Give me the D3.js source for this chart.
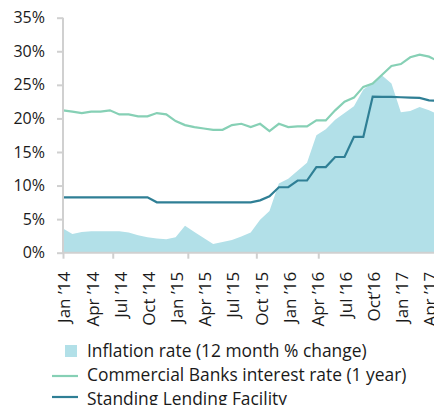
<!DOCTYPE html>
<html>
<head>
<meta charset="utf-8">
<script src="https://cdn.jsdelivr.net/npm/d3@7"></script>
<style>
  body { margin: 0; background: #fff; }
  svg { display: block; font-family: "Open Sans", sans-serif; }
</style>
</head>
<body>
<div id="chart"></div>
<script>
var width = 434;
var height = 405;

// months from Jan 2014 (0) to May 2017 (40)
var months = d3.range(0, 41);

var inflation = [3.6, 2.8, 3.1, 3.2, 3.2, 3.2, 3.2, 3.0, 2.6, 2.3, 2.1, 2.0, 2.3,
  4.0, 3.1, 2.2, 1.3, 1.6, 1.9, 2.4, 3.0, 4.9, 6.2, 10.3, 11.0, 12.2, 13.4,
  17.5, 18.4, 19.8, 20.8, 21.8, 24.3, 25.3, 26.4, 25.2, 20.9, 21.1, 21.7, 21.2, 20.6];

var bankRate = [21.2, 21.0, 20.8, 21.0, 21.0, 21.2, 20.6, 20.6, 20.3, 20.3, 20.8, 20.6, 19.6,
  19.0, 18.7, 18.5, 18.3, 18.3, 19.0, 19.2, 18.7, 19.2, 18.1, 19.2, 18.7, 18.8, 18.8,
  19.7, 19.7, 21.2, 22.5, 23.1, 24.7, 25.2, 26.5, 27.8, 28.1, 29.1, 29.5, 29.2, 28.5];

var lendingFacility = [8.25, 8.25, 8.25, 8.25, 8.25, 8.25, 8.25, 8.25, 8.25, 8.25, 7.5, 7.5, 7.5,
  7.5, 7.5, 7.5, 7.5, 7.5, 7.5, 7.5, 7.5, 7.8, 8.4, 9.75, 9.75, 10.75, 10.75,
  12.75, 12.75, 14.25, 14.25, 17.25, 17.25, 23.25, 23.2, 23.2, 23.15, 23.1, 23.05, 22.7, 22.6];

var yTicks = [0, 5, 10, 15, 20, 25, 30, 35];
var xTickMonths = [0, 5.3, 13.3, 20.6, 27.2];
var labelMonths = [0, 3, 6, 9, 12, 15, 18, 21, 24, 27, 30, 33, 36, 39];
var labelNames = ["Jan \u201914", "Apr \u201914", "Jul \u201914", "Oct \u201914",
  "Jan \u201915", "Apr \u201915", "Jul \u201915", "Oct \u201915",
  "Jan \u201916", "Apr \u201916", "Jul \u201916", "Oct\u201916",
  "Jan \u201917", "Apr \u201917"];

var seriesNames = ["Inflation rate (12 month % change)",
  "Commercial Banks interest rate (1 year)",
  "Standing Lending Facility"];
var colors = ["#b2e0e8", "#86d0b5", "#2f7f95"];

var x = d3.scaleLinear().domain([0, 40]).range([63, 438.4]);
var y = d3.scaleLinear().domain([0, 35]).range([252.7, 17.7]);

var svg = d3.select("#chart").append("svg")
  .attr("width", width)
  .attr("height", height);

var area = d3.area()
  .x(function(d, i) { return x(months[i]); })
  .y0(y(0))
  .y1(function(d) { return y(d); });

svg.append("path")
  .datum(inflation)
  .attr("d", area)
  .style("fill", colors[0]);

var line = d3.line()
  .x(function(d, i) { return x(months[i]); })
  .y(function(d) { return y(d); });

svg.append("path")
  .datum(bankRate)
  .attr("d", line)
  .style("fill", "none")
  .style("stroke", colors[1])
  .style("stroke-width", 2.2);

svg.append("path")
  .datum(lendingFacility)
  .attr("d", line)
  .style("fill", "none")
  .style("stroke", colors[2])
  .style("stroke-width", 2.2);

// y axis
var yAxis = d3.axisLeft(y)
  .tickValues(yTicks)
  .tickFormat(function(d) { return d + "%"; })
  .tickSize(6)
  .tickPadding(12);
var gy = svg.append("g")
  .attr("transform", "translate(63,0)")
  .call(yAxis);
gy.selectAll("path, line").style("stroke", "#d0d0d0").style("stroke-width", 2);
gy.select(".domain").attr("d", "M0," + y(35) + "V" + y(0));
gy.selectAll("text")
  .style("font-size", "16px")
  .style("fill", "#1a1a1a")
  .style("font-family", "Open Sans, sans-serif");

// x axis ticks
var xAxis = d3.axisBottom(x)
  .tickValues(xTickMonths)
  .tickFormat("")
  .tickSize(6);
var gx = svg.append("g")
  .attr("transform", "translate(0," + y(0) + ")")
  .call(xAxis);
gx.selectAll("path, line").style("stroke", "#d0d0d0").style("stroke-width", 2);
gx.select(".domain").attr("d", "M63,0H" + width);

// x axis labels
var xLabels = d3.axisBottom(x)
  .tickValues(labelMonths)
  .tickFormat(function(d, i) { return labelNames[i]; })
  .tickSize(0);
var gl = svg.append("g")
  .attr("transform", "translate(0," + y(0) + ")")
  .call(xLabels);
gl.select(".domain").remove();
gl.selectAll("text")
  .attr("transform", "rotate(-90)")
  .attr("text-anchor", "end")
  .attr("x", -19)
  .attr("y", 1)
  .attr("dy", "0.35em")
  .style("font-size", "17px")
  .style("fill", "#1a1a1a")
  .style("font-family", "Open Sans, sans-serif");

// legend
var legend = svg.append("g").attr("transform", "translate(0,351)");
legend.append("rect")
  .attr("x", 65).attr("y", -6)
  .attr("width", 12).attr("height", 12)
  .style("fill", colors[0]);
legend.append("line")
  .attr("x1", 52).attr("x2", 78)
  .attr("y1", 25).attr("y2", 25)
  .style("stroke", colors[1]).style("stroke-width", 2.2);
legend.append("line")
  .attr("x1", 52).attr("x2", 78)
  .attr("y1", 46).attr("y2", 46)
  .style("stroke", colors[2]).style("stroke-width", 2.2);
legend.selectAll("text.leg")
  .data(seriesNames)
  .enter().append("text")
  .attr("class", "leg")
  .attr("x", 87)
  .attr("y", function(d, i) { return i * 24; })
  .attr("dy", "0.35em")
  .style("font-size", "17.4px")
  .style("fill", "#1a1a1a")
  .text(function(d) { return d; });
</script>
</body>
</html>
